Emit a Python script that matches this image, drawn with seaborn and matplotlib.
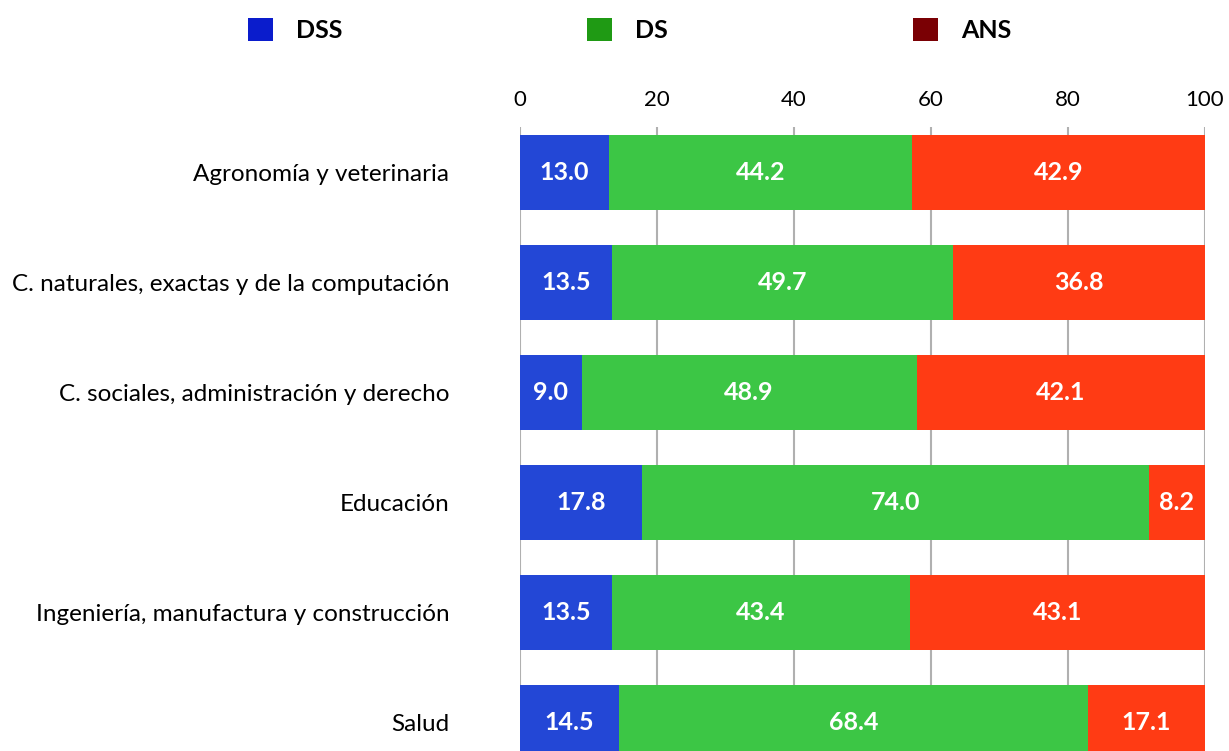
import matplotlib
matplotlib.use("Agg")
import matplotlib.pyplot as plt
import seaborn as sns
import pandas as pd
import numpy as np
from matplotlib.patches import Patch
from matplotlib import font_manager

categories = ["Agronomía y veterinaria",
              "C. naturales, exactas y de la computación",
              "C. sociales, administración y derecho",
              "Educación",
              "Ingeniería, manufactura y construcción",
              "Salud"]
dss = [13.0, 13.5, 9.0, 17.8, 13.5, 14.5]
ds = [44.2, 49.7, 48.9, 74.0, 43.4, 68.4]
ans = [42.9, 36.8, 42.1, 8.2, 43.1, 17.1]
series_names = ["DSS", "DS", "ANS"]
ticks = [0, 20, 40, 60, 80, 100]

sns.set_theme(style="white")
plt.rcParams['font.family'] = ['Lato', 'DejaVu Sans']
plt.rcParams['text.color'] = 'black'

lato_weights = {str(f.weight) for f in font_manager.fontManager.ttflist if f.name == 'Lato'}
bold_family = ['Lato', 'DejaVu Sans']
bold_weight = 'bold'
if not any(w in ('700', 'bold', '800', '900', 'black', 'heavy') for w in lato_weights):
    bold_family = ['Open Sans', 'DejaVu Sans']

bar_colors = ["#2347d6", "#3cc645", "#ff3b14"]
legend_colors = ["#0a1ccc", "#1f9a14", "#7a0004"]

df = pd.DataFrame({"cat": categories, "DSS": dss, "DS": ds, "ANS": ans})
df["c1"] = df["DSS"]
df["c2"] = df["DSS"] + df["DS"]
df["c3"] = df["DSS"] + df["DS"] + df["ANS"]

fig = plt.figure(figsize=(12.29, 7.51), dpi=100)
ax = fig.add_axes([520/1229, 0, (1205-520)/1229, (751-127)/751])

for col, color in zip(["c3", "c2", "c1"], bar_colors[::-1]):
    sns.barplot(data=df, x=col, y="cat", orient="h", color=color, width=0.68,
                ax=ax, saturation=1, edgecolor="none", zorder=3)

for i in range(len(categories)):
    starts = [0, dss[i], dss[i] + ds[i]]
    for s, v in zip(starts, [dss[i], ds[i], ans[i]]):
        ax.text(s + v / 2, i, f"{v:.1f}", ha="center", va="center",
                color="white", fontsize=18, fontweight=bold_weight,
                family=bold_family, zorder=5)

ax.set_xlim(0, 100)
ax.set_ylim(5.26, -0.41)
ax.set_xticks(ticks)
ax.xaxis.tick_top()
ax.tick_params(axis="x", length=0, labelsize=16, pad=12, colors="black")
ax.tick_params(axis="y", length=0, labelsize=17.5, pad=51, colors="black")
ax.set_xlabel("")
ax.set_ylabel("")
ax.grid(axis="x", color="#b0b0b0", linewidth=1.5, zorder=0)
for sp in ax.spines.values():
    sp.set_visible(False)

handles = [Patch(facecolor=c, edgecolor="none") for c in legend_colors]
fig.legend(handles, series_names, ncol=3, loc="center left",
           bbox_to_anchor=(248/1229, 1 - 30/751), frameon=False,
           prop={"weight": bold_weight, "size": 18, "family": bold_family},
           labelcolor="black", handlelength=1.0,
           handleheight=1.0, handletextpad=0.92, columnspacing=9.8,
           borderpad=0, borderaxespad=0)

fig.savefig("out.png", dpi=100)
